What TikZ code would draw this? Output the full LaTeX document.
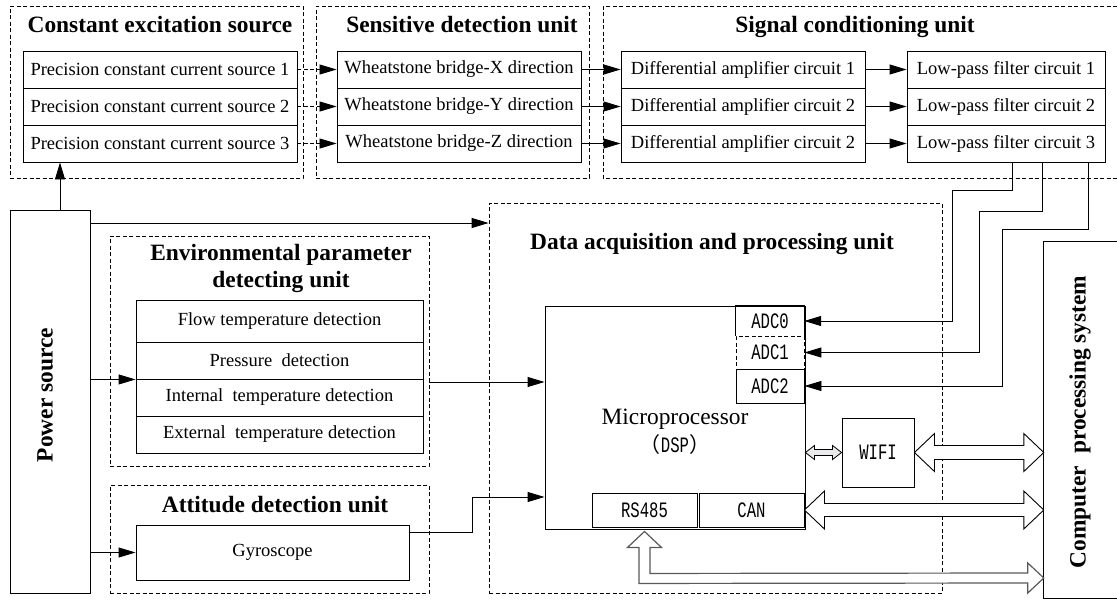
\documentclass[tikz,border=0pt]{standalone}
\usepackage{fontspec}
\usepackage{graphicx}
\setmainfont{Liberation Serif}
\newfontfamily\cjk{Noto Sans CJK SC}[Scale=1.0]
\newfontfamily\codef[FakeStretch=0.71]{Liberation Mono}
\usetikzlibrary{arrows.meta,calc}
\begin{document}
\begin{tikzpicture}[x=1pt,y=-1pt,
  every node/.style={inner sep=0pt},
  box/.style={draw, line width=0.9pt},
  small/.style={font=\fontsize{18.5}{20}\selectfont},
  ttl/.style={font=\fontsize{23.4}{27}\selectfont\bfseries},
  big/.style={font=\fontsize{23.4}{27}\selectfont},
  code/.style={font=\fontsize{22}{24}\selectfont\codef},
  arr/.style={-{Triangle[length=17pt,width=10pt]}, line width=0.9pt},
  dbox/.style={draw, dash pattern=on 4pt off 2.5pt, line width=0.8pt},
  dline/.style={dash pattern=on 4pt off 2.5pt, line width=0.8pt},
  fat/.style={draw, line width=0.9pt, fill=white},
]
\useasboundingbox (0,0) rectangle (1117,600);

% ---- dashed group frames
\node[dbox, minimum width=293, minimum height=172] (ces) at (156.5,92) {};
\node[dbox, minimum width=273, minimum height=172] (sdu) at (452.5,92) {};
\coordinate (scuA) at (1117,6);
\coordinate (scuB) at (603,178);
\draw[dline] (scuA) -| (scuB) -- (1117,178);
\node[dbox, minimum width=319, minimum height=230] (env) at (269.5,351) {};
\node[dbox, minimum width=319, minimum height=108] (att) at (269.5,539) {};
\node[dbox, minimum width=453, minimum height=390] (daq) at (715.5,398) {};

% ---- titles
\node[ttl, anchor=base] (t1) at (160,32) {Constant excitation source};
\node[ttl, anchor=base] (t2) at (462,32) {Sensitive detection unit};
\node[ttl, anchor=base] (t3) at (855,32) {Signal conditioning unit};
\node[ttl, anchor=base] (t4) at (281,260) {Environmental parameter};
\node[ttl, anchor=base] (t5) at (281,287) {detecting unit};
\node[ttl, anchor=base] (t6) at (275,512) {Attitude detection unit};
\node[ttl, anchor=base] (t7) at (712,249) {Data acquisition and processing unit};

% ---- top chain
\foreach \i/\y/\d/\a in {1/69.5/X/1, 2/106.5/Y/2, 3/143.5/Z/2} {
  \node[box, small, minimum width=274, minimum height=37] (cs\i) at (160,\y) {Precision constant current source \i};
  \node[box, small, minimum width=244, minimum height=37] (wb\i) at (459,\y) {Wheatstone bridge-\d\ direction};
  \node[box, small, minimum width=244, minimum height=37] (da\i) at (743,\y) {Differential amplifier circuit \a};
  \node[box, small, minimum width=198, minimum height=37] (lp\i) at (1006,\y) {Low-pass filter circuit \i};
}
\foreach \i in {1,2,3} {
  \draw[arr, dline] (cs\i.east) -- (wb\i.west);
  \draw[arr] (wb\i.east) -- (da\i.west);
  \draw[arr] (da\i.east) -- (lp\i.west);
}

% ---- power source
\node[box, minimum width=80, minimum height=383] (pw) at (50,401.5) {};
\node[ttl, rotate=90] (pwt) at (45,395) {Power source};

% ---- environmental parameter unit
\node[box, small, minimum width=287, minimum height=42] (er1) at (279.5,321) {Flow temperature detection};
\node[box, small, minimum width=287, minimum height=37] (er2) at (279.5,360.5) {Pressure\ \ detection};
\node[box, small, minimum width=287, minimum height=37] (er3) at (279.5,397.5) {Internal\ \ temperature detection};
\node[box, small, minimum width=287, minimum height=37] (er4) at (279.5,434.5) {External\ \ temperature detection};

% ---- attitude unit
\node[box, small, minimum width=273, minimum height=55] (gy) at (272.5,552.5) {Gyroscope};

% ---- microprocessor
\node[box, minimum width=260, minimum height=223] (mp) at (675,417.5) {};
\node[big, anchor=base] (mpt) at (675,424) {Microprocessor};
\node[code, anchor=base] (dsp) at (675,452) {{\fontsize{21}{24}\selectfont\cjk （}DSP{\fontsize{21}{24}\selectfont\cjk ）}};
\node[code, minimum width=68, minimum height=30] (adc0) at (770,321) {ADC0};
\draw[line width=0.9pt] (adc0.south west) |- (adc0.north east) -- (adc0.south east);
\node[code, draw, dline, minimum width=68, minimum height=33] (adc1) at (770,352.5) {ADC1};
\node[code, box, minimum width=68, minimum height=34] (adc2) at (770,386) {ADC2};
\node[code, box, minimum width=105, minimum height=34] (rs) at (644.5,510) {RS485};
\node[code, box, minimum width=105, minimum height=34] (can) at (751.5,510) {CAN};
\node[code, box, minimum width=72, minimum height=69] (wifi) at (878,452.5) {WIFI};

% ---- computer processing system
\node[minimum width=73, minimum height=356] (cps) at (1080.5,420) {};
\draw[line width=0.9pt] (cps.north east) -- (cps.north west) -- (cps.south west) -- (cps.south east);
\node[ttl, rotate=90] (cpt) at (1080,422) {Computer\ \ processing system};

% ---- power connections
\coordinate (p0) at (60,210);
\draw[arr] (p0) -- (p0 |- cs3.south);
\coordinate (p1) at (90,223);
\draw[arr] (p1) -- (p1 -| daq.west);
\draw[arr] (pw.east |- er2.south) -- (er2.south west);
\draw[arr] (pw.east |- gy.west) -- (gy.west);

% ---- sensors to microprocessor
\coordinate (e1) at (429,382);
\draw[arr] (e1) -- (e1 -| mp.west);
\coordinate (g1) at (409,532);
\coordinate (g2) at (472,497);
\draw[arr] (g1) -| (g2) -- (g2 -| mp.west);

% ---- filters to ADCs
\coordinate (lpa) at (1012,162);
\coordinate (lpb) at (1042,162);
\coordinate (lpc) at (1088,162);
\draw[arr] (lpa) |- (952,190) |- (adc0.east);
\draw[arr] (lpb) |- (979,211) |- (adc1.east);
\draw[arr] (lpc) |- (1002,229) |- (adc2.east);

% ---- hollow double arrows
\coordinate (wa) at (wifi.east);
\coordinate (wb) at (wifi.east -| cps.west);
\draw[fat] (wa) -- ++(20,-19) -- ++(0,12) -- ($(wb)+(-20,-7)$) -- ++(0,-12) -- (wb)
  -- ++(-20,19) -- ++(0,-12) -- ($(wa)+(20,7)$) -- ++(0,12) -- cycle;
\coordinate (ca) at (can.east);
\coordinate (cb) at (can.east -| cps.west);
\draw[fat] (ca) -- ++(20,-19) -- ++(0,12.5) -- ($(cb)+(-20,-6.5)$) -- ++(0,-12.5) -- (cb)
  -- ++(-20,19) -- ++(0,-12.5) -- ($(ca)+(20,6.5)$) -- ++(0,12.5) -- cycle;
\coordinate (ma) at (mp.east |- wifi.west);
\coordinate (mb) at (wifi.west);
\draw[line width=0.8pt, fill=blue!8!gray!15] (ma) -- ++(9,-7) -- ++(0,4) -- ($(mb)+(-9,-3)$) -- ++(0,-4) -- (mb)
  -- ++(-9,7) -- ++(0,-4) -- ($(ma)+(9,3)$) -- ++(0,4) -- cycle;
% RS485 bus arrow
\coordinate (rt) at ($(rs.south)+(0,4)$);
\coordinate (rend) at (cps.west |- 0,578);
\draw[line width=1.2pt, draw=gray!70!black, fill=white]
  (rt) -- ++(17,16) -- ++(-11.5,0) -- ++(0,26) -- ($(rend)+(-16,-5)$) -- ++(0,-10) -- (rend)
  -- ++(-16,15) -- ++(0,-10) -- ($(rt)+(-5.5,52)$) -- ++(0,-36) -- ++(-11.5,0) -- cycle;
\end{tikzpicture}
\end{document}
